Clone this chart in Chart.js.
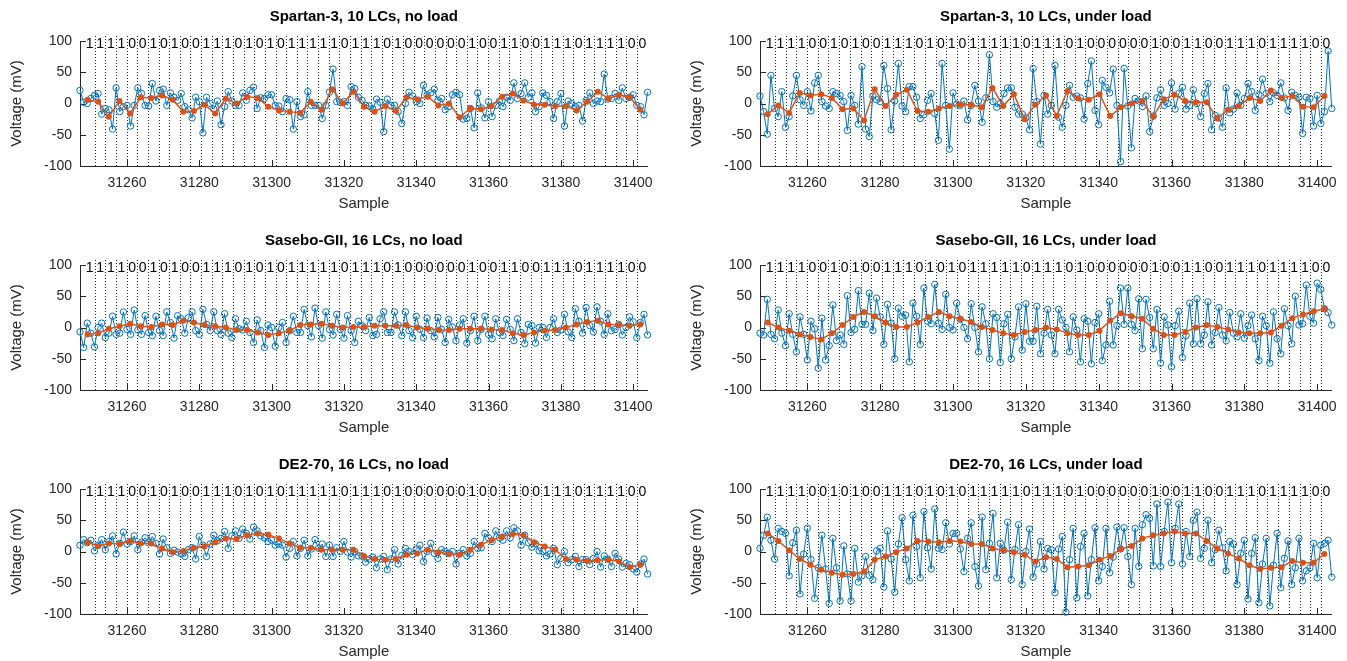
<!DOCTYPE html>
<html>
<head>
<meta charset="utf-8">
<script src="https://cdn.jsdelivr.net/npm/chart.js@4"></script>
<style>
  body { margin: 0; background: #fff; width: 1347px; height: 661px; overflow: hidden; position: relative; }
  canvas { position: absolute; }
</style>
</head>
<body>
<canvas id="c0" width="662" height="213" style="left:0;top:0"></canvas>
<canvas id="c1" width="666" height="213" style="left:680px;top:0"></canvas>
<canvas id="c2" width="662" height="213" style="left:0;top:224px"></canvas>
<canvas id="c3" width="666" height="213" style="left:680px;top:224px"></canvas>
<canvas id="c4" width="662" height="213" style="left:0;top:448px"></canvas>
<canvas id="c5" width="666" height="213" style="left:680px;top:448px"></canvas>
<script>
// sample axis
const firstSample = 31247;
const lastSample = 31404;
const xTicks = [31260, 31280, 31300, 31320, 31340, 31360, 31380, 31400];
const yTicks = [-100, -50, 0, 50, 100];

// bit sequence written at the top, one per bit period
const bits = ('11110010100111010101111101' + '110100000010011001110111100').split('');
const firstBitEdge = 31251.1;   // sample of the first dotted boundary
const firstBitCentre = 31249.1; // sample of the first per-bit mean
const samplesPerBit = 2.94;

// Spartan-3, 10 LCs, no load
const spartanNoLoad = [21,2,0,8,13,16,-17,-8,-10,-41, 25,-13,-5,-3,-36,-3,25,16,-3,-4,
  32,4,21,23,-3,17,10,5,16,-5, -10,-23,10,3,-47,10,0,-9,4,-34, -5,19,4,-3,-3,17,5,21,26,-8,
  9,8,14,14,-3,-4,-13,8,6,-41, 3,-21,-18,19,-3,-3,-3,-24,-3,18, 55,3,2,3,-3,27,24,10,5,-3,
  -4,-9,7,2,-45,7,-3,-3,-13,-32, 0,18,12,3,0,29,14,17,23,5, 8,-10,-5,14,18,14,-25,-24,-8,-39,
  17,-7,-23,3,-21,-3,4,-5,10,5, 33,8,16,33,10,17,-13,-5,17,13, 3,-24,3,16,-36,4,0,-5,-3,-28,
  5,17,0,4,3,47,7,8,16,5, 25,8,10,14,-3,-5,-18,18];
const spartanNoLoadMean = [6,3,-21,4,-16,10,9,13,6,-13, -12,-2,-16,8,0,11,9,-5,-11,-13,
  -15,3,-10,23,0,19,-5,-13,-4,-12, 10,7,11,-3,0,-22,-8,-9,-4,11, 16,5,-2,-2,-4,-4,-11,3,19,8, 14,10,-10];

// Spartan-3, 10 LCs, under load
const spartanLoad = [12,-13,-49,45,-8,-21,19,-38,-21,12, 45,6,-3,19,-12,33,45,3,-4,-8,
  19,16,13,3,-43,13,-3,-33,59,-41, -53,12,6,3,61,24,-42,4,64,-4, -13,27,27,10,-24,-18,5,16,-16,-59,
  64,-3,-73,17,-1,-3,4,-26,-3,29, 4,-30,9,78,3,-6,0,16,25,25, -6,-17,-17,-23,-42,56,3,-65,13,-17,
  -3,61,-22,-38,-3,29,10,12,9,-25, 32,68,-11,-34,37,26,17,55,-3,-93, 56,-4,-71,8,4,-5,12,-45,-20,9,
  22,-3,0,33,-9,16,26,-9,-3,22, 0,-21,16,32,-42,-19,-23,-38,25,-15, -9,17,-3,8,32,19,-11,14,39,16,
  3,17,13,33,9,-11,18,13,10,-48, 10,8,-36,13,-32,-13,84,-8];
const spartanLoadMean = [-17,-3,-15,17,13,15,9,-9,-8,-27, 23,-4,14,22,-12,-13,-8,-4,-2,-2,
  -6,25,-4,15,-25,-2,13,-20,20,8, 6,15,-20,-6,0,4,-21,7,14,4, 2,2,-24,-10,-4,9,4,21,9,12, -5,-6,12];

// Sasebo-GII, 16 LCs, no load
const sasNoLoad = [-7,-32,7,-9,-31,0,7,-16,-9,18, -11,-9,25,-3,-11,28,-4,-11,19,-8,
  -13,18,-5,-13,25,8,-17,19,14,-9, 16,25,-5,-11,29,5,-5,25,-5,-11, 22,-9,-16,14,-2,-4,10,-8,-24,12,
  -5,-32,4,0,-30,0,8,-24,-5,18, -8,-8,29,3,-15,31,3,-17,25,-3, -12,21,-3,-17,19,-5,-24,10,3,-5,
  16,-13,-11,14,25,-8,-8,25,4,-13, 25,-5,-16,18,-3,-16,15,-5,-15,16, -3,-24,13,1,-21,4,14,-25,-5,18,
  -21,-3,18,-11,-18,14,-8,-13,13,-3, -21,14,-8,-26,5,3,-25,0,0,-16, 0,14,-8,-4,21,-7,-16,30,10,-9,
  32,3,-7,33,10,-11,22,-5,-3,5, -12,0,17,9,-16,8,21,-12];
const sasNoLoadMean = [-11,-9,-2,2,6,2,1,5,4,11, 8,4,2,0,-4,-4,-8,-12,-9,-5,
  4,5,6,3,0,1,1,3,3,3, 4,0,-2,-4,-4,-2,-2,-2,-3,-4, -9,-12,-8,-5,-4,0,5,9,11,5, 4,3,5];

// Sasebo-GII, 16 LCs, under load
const sasLoad = [-9,-12,45,-11,-18,28,-9,-29,22,-11, -39,17,-11,-52,10,-2,-65,15,-52,-29,
  36,-21,-12,-27,51,-8,-3,59,5,5, 55,-5,47,17,-27,37,7,-50,31,18, 20,-55,39,18,-27,63,10,6,69,7,
  -3,53,0,-4,39,13,0,-18,38,0, -39,33,6,-50,22,16,-56,6,21,-50, -15,33,-36,38,-22,-22,34,-42,-9,29,
  -12,-42,29,12,0,-39,17,-4,-55,14, 10,-58,8,22,-53,-28,42,-28,3,63, 5,63,5,-5,46,-34,45,16,-34,29,
  -57,17,4,-63,3,26,-48,-13,39,-26, 46,-26,-12,41,-28,-8,32,-12,-21,24, -9,-15,22,-17,3,20,-18,-53,18,3,
  -57,25,-18,-42,30,3,-26,50,4,6, 68,18,7,71,61,30,24,4];
const sasLoadMean = [8,0,-5,-11,-15,-19,-9,4,17,25, 18,8,1,1,8,17,25,18,14,9,
  1,-4,-9,-12,-7,-4,0,-3,-9,-12, -12,-5,11,23,18,14,-2,-12,-12,-7, 0,4,1,-3,-8,-9,-9,-8,3,15, 21,26,30];

// DE2-70, 16 LCs, no load
const de2NoLoad = [10,19,14,18,1,10,19,3,16,25, -4,13,31,12,16,25,3,15,22,14,
  24,13,-4,20,6,-3,2,-1,-4,-8, 3,6,-12,24,10,-8,12,26,17,21, 32,5,25,33,21,36,29,20,39,33,
  25,22,16,18,10,12,10,-9,5,16, -7,5,18,-7,4,19,5,12,-8,10, -8,6,0,16,-1,-9,0,-7,-7,-17,
  -12,-9,-26,-12,-8,-29,-12,3,-20,-6, 5,0,-5,4,10,-16,0,13,-3,-11, 3,0,-3,0,-20,-3,3,-7,-3,16,
  5,6,29,22,16,33,22,18,33,22, 38,33,10,26,14,7,12,1,0,-7, -4,5,-21,-11,0,-18,-13,-8,-24,-13,
  -13,-21,-11,0,-25,-7,-12,-24,-3,-12, -25,-19,-21,-28,-33,-20,-12,-36];
const de2NoLoadMean = [15,9,13,12,17,13,13,5,-1,1, 6,8,15,21,20,26,29,27,21,13,
  6,6,3,3,3,3,-7,-12,-13,-12, -5,-3,3,-1,-4,-5,3,11,18,24, 28,26,15,8,3,-12,-13,-15,-14,-13, -16,-25,-21];

// DE2-70, 16 LCs, under load
const de2Load = [5,26,55,18,-12,37,32,29,-39,14, 34,-68,-4,37,-13,-75,-26,26,-28,-83,
  21,-26,-79,9,-36,-79,5,-49,-39,-8, -38,-45,1,5,-57,33,-12,-65,12,54, -13,-47,58,8,-42,64,6,-28,68,5,
  3,46,12,29,29,4,-32,21,46,-24, -55,55,-29,13,61,-42,13,2,47,-45, 3,43,-53,0,36,-41,-20,16,-28,5,
  3,-66,4,24,-97,-13,37,-74,8,29, -71,-13,38,-47,-24,37,-34,-9,39,4, 38,-8,-53,37,-24,43,59,53,-23,76,
  -24,32,79,-18,37,76,-20,32,-8,50, 63,-11,5,50,-18,3,34,6,-31,16, 12,-53,-3,18,-76,-3,22,-82,-20,21,
  -87,-22,29,-58,-11,17,-53,-26,21,-47, -31,-26,13,-42,10,13,18,-41];
const de2LoadMean = [29,17,2,-12,-21,-29,-34,-37,-36,-32, -13,-8,-1,5,17,16,15,17,16,12,
  12,5,2,-1,-5,-16,-9,-12,-25,-24, -22,-13,-7,4,9,21,26,29,32,29, 29,17,5,-3,-11,-22,-28,-26,-25,-15, -18,-18,-4];

const panels = [
  { id: 'c0', title: 'Spartan-3, 10 LCs, no load', samples: spartanNoLoad, means: spartanNoLoadMean },
  { id: 'c1', title: 'Spartan-3, 10 LCs, under load', samples: spartanLoad, means: spartanLoadMean },
  { id: 'c2', title: 'Sasebo-GII, 16 LCs, no load', samples: sasNoLoad, means: sasNoLoadMean },
  { id: 'c3', title: 'Sasebo-GII, 16 LCs, under load', samples: sasLoad, means: sasLoadMean },
  { id: 'c4', title: 'DE2-70, 16 LCs, no load', samples: de2NoLoad, means: de2NoLoadMean },
  { id: 'c5', title: 'DE2-70, 16 LCs, under load', samples: de2Load, means: de2LoadMean }
];

const FONT = '"Liberation Sans", Arial, Helvetica, sans-serif';
const AXIS = '#262626';

// dotted bit boundaries, bit labels and MATLAB style inward ticks
const bitMarks = {
  id: 'bitMarks',
  beforeDatasetsDraw(chart) {
    const { ctx, chartArea: a, scales: { x, y } } = chart;
    ctx.save();
    ctx.strokeStyle = AXIS;
    ctx.lineWidth = 1;
    ctx.setLineDash([1, 2]);
    for (let k = 0; k < bits.length - 1; k++) {
      const px = Math.round(x.getPixelForValue(firstBitEdge + k * samplesPerBit)) + 0.5;
      ctx.beginPath();
      ctx.moveTo(px, a.top - 5);
      ctx.lineTo(px, a.bottom);
      ctx.stroke();
    }
    ctx.setLineDash([]);
    xTicks.forEach(v => {
      const px = Math.round(x.getPixelForValue(v)) + 0.5;
      ctx.beginPath(); ctx.moveTo(px, a.bottom); ctx.lineTo(px, a.bottom - 6); ctx.stroke();
    });
    yTicks.forEach(v => {
      const py = Math.round(y.getPixelForValue(v)) + 0.5;
      ctx.beginPath(); ctx.moveTo(a.left, py); ctx.lineTo(a.left + 6, py); ctx.stroke();
    });
    ctx.restore();
  },
  afterDatasetsDraw(chart) {
    const { ctx, scales: { x, y } } = chart;
    ctx.save();
    ctx.font = '14px ' + FONT;
    ctx.fillStyle = '#000';
    ctx.textAlign = 'left';
    ctx.textBaseline = 'middle';
    bits.forEach((b, k) => {
      const px = x.getPixelForValue(firstBitEdge + (k - 1) * samplesPerBit) + 1.5;
      ctx.fillText(b, px, y.getPixelForValue(100) + 3);
    });
    ctx.restore();
  }
};

panels.forEach(p => {
  const blue = p.samples.map((v, i) => ({ x: firstSample + i, y: v }));
  const orange = p.means.map((v, j) => ({ x: firstBitCentre + j * samplesPerBit, y: v }));
  new Chart(document.getElementById(p.id), {
    type: 'line',
    data: {
      datasets: [
        {
          data: orange,
          order: 0,
          borderColor: '#D95319',
          backgroundColor: '#D95319',
          borderWidth: 1.5,
          pointRadius: 3,
          pointBorderWidth: 0,
          pointBackgroundColor: '#D95319',
          clip: false
        },
        {
          data: blue,
          order: 1,
          borderColor: '#0072BD',
          borderWidth: 1,
          pointRadius: 3.2,
          pointBorderWidth: 1,
          pointBorderColor: '#0072BD',
          pointBackgroundColor: 'rgba(255,255,255,0)',
          clip: false
        }
      ]
    },
    options: {
      responsive: false,
      animation: false,
      events: [],
      layout: { padding: 0 },
      scales: {
        x: {
          type: 'linear',
          min: firstSample,
          max: lastSample,
          afterBuildTicks: s => { s.ticks = xTicks.map(v => ({ value: v })); },
          afterFit: s => { s.height = 47; },
          grid: { display: false, drawTicks: false },
          border: { display: true, color: AXIS, width: 1 },
          ticks: { color: AXIS, font: { family: FONT, size: 14 }, padding: 9, maxRotation: 0,
                   callback: v => String(v) },
          title: { display: true, text: 'Sample', color: AXIS, font: { family: FONT, size: 15 },
                   padding: { top: 4, bottom: 0 } }
        },
        y: {
          min: -100,
          max: 100,
          afterBuildTicks: s => { s.ticks = yTicks.map(v => ({ value: v })); },
          afterFit: s => { s.width = 80; },
          grid: { display: false, drawTicks: false },
          border: { display: true, color: AXIS, width: 1 },
          ticks: { color: AXIS, font: { family: FONT, size: 14 }, padding: 8 },
          title: { display: true, text: 'Voltage (mV)', color: AXIS, font: { family: FONT, size: 15 },
                   padding: { top: 8, bottom: 0 } }
        }
      },
      plugins: {
        legend: { display: false },
        tooltip: { enabled: false },
        title: {
          display: true,
          fullSize: false,
          text: p.title,
          color: '#000',
          font: { family: FONT, size: 15, weight: 'bold' },
          padding: { top: 8, bottom: 15 }
        }
      }
    },
    plugins: [bitMarks]
  });
});
</script>
</body>
</html>
